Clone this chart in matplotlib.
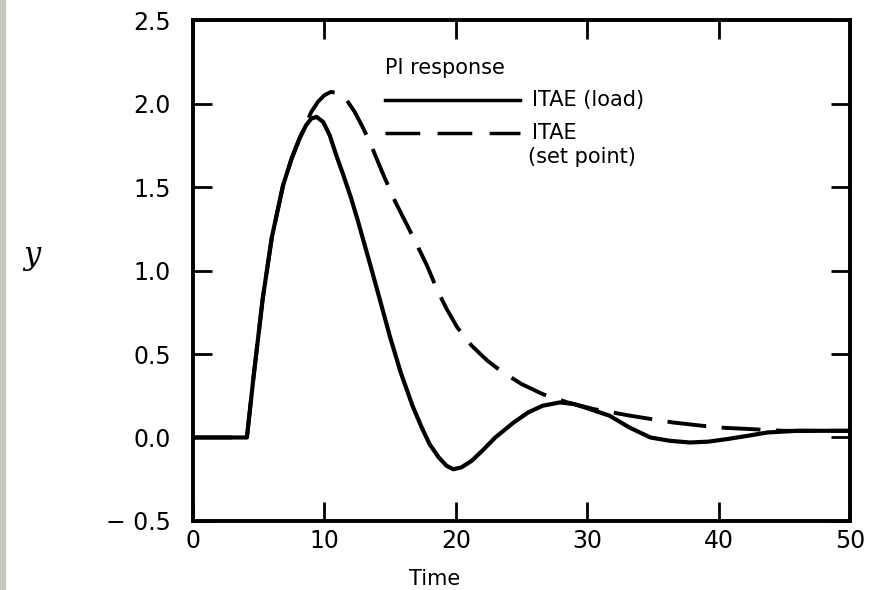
import matplotlib.pyplot as plt
from matplotlib.patches import Rectangle

# PI response, ITAE tuning
t_load = [0, 4.1, 4.6, 5.3, 6.0, 6.85, 7.5, 8.1, 8.6, 9.0, 9.4, 9.9, 10.4, 10.9, 11.4,
          12.0, 12.5, 13.0, 13.5, 14.2, 15.0, 15.8, 16.7, 17.4, 18.0, 18.7, 19.3, 19.8,
          20.4, 21.2, 22.0, 23.0, 24.4, 25.5, 26.6, 27.9, 29.0, 30.2, 31.7, 33.2, 34.8,
          36.3, 37.8, 39.2, 40.6, 42.2, 43.7, 46.0, 48.0, 50]
y_load = [0, 0, 0.36, 0.83, 1.2, 1.51, 1.67, 1.79, 1.87, 1.91, 1.92, 1.89, 1.81, 1.69, 1.58,
          1.44, 1.31, 1.17, 1.03, 0.83, 0.60, 0.39, 0.19, 0.06, -0.04, -0.12, -0.17, -0.19,
          -0.18, -0.14, -0.08, 0.0, 0.09, 0.15, 0.19, 0.21, 0.2, 0.17, 0.13, 0.06, 0.0,
          -0.02, -0.03, -0.025, -0.01, 0.01, 0.03, 0.04, 0.04, 0.04]

t_sp = [0, 4.1, 4.6, 5.3, 6.0, 6.85, 7.5, 8.1, 8.6, 9.0, 9.5, 10.0, 10.5, 11.1, 11.7, 12.3,
        12.9, 13.5, 14.5, 15.4, 16.3, 17.0, 17.8, 18.6, 19.3, 20.1, 21.2, 22.4, 23.4, 25.0,
        26.6, 28.5, 30.5, 33.3, 36.5, 39.9, 42.5, 44.9, 47.5, 50]
y_sp = [0, 0, 0.36, 0.83, 1.2, 1.51, 1.67, 1.79, 1.88, 1.95, 2.01, 2.05, 2.07, 2.06, 2.02, 1.95,
        1.86, 1.76, 1.57, 1.41, 1.27, 1.16, 1.03, 0.88, 0.77, 0.66, 0.55, 0.46, 0.40, 0.32,
        0.26, 0.21, 0.17, 0.13, 0.09, 0.06, 0.05, 0.04, 0.04, 0.04]

xticks = [0, 10, 20, 30, 40, 50]
yticks = [-0.5, 0.0, 0.5, 1.0, 1.5, 2.0, 2.5]
ytick_labels = ['\u2212 0.5', '0.0', '0.5', '1.0', '1.5', '2.0', '2.5']

fig = plt.figure(figsize=(8.75, 5.9), dpi=100)
ax = fig.add_axes([0.2206, 0.117, 0.751, 0.849])

ax.plot(t_load, y_load, color='black', lw=3, solid_joinstyle='round')
ax.plot(t_sp, y_sp, color='black', lw=2.8, linestyle=(0, (10, 4)))

ax.set_xlim(0, 50)
ax.set_ylim(-0.5, 2.5)
ax.set_xticks(xticks)
ax.set_yticks(yticks)
ax.set_yticklabels(ytick_labels)
ax.tick_params(direction='in', top=True, right=True, length=14, width=2, labelsize=17)
ax.tick_params(axis='y', pad=16)
ax.tick_params(axis='x', pad=6)
for s in ax.spines.values():
    s.set_linewidth(2.8)

ax.set_xlabel('Time', fontsize=15)
ax.xaxis.set_label_coords(0.368, -0.095)
ax.set_ylabel('y', fontsize=22, rotation=0, fontstyle='italic', family='DejaVu Serif')
ax.yaxis.set_label_coords(-0.245, 0.5)

# hand drawn key
ax.text(0.292, 0.904, 'PI response', transform=ax.transAxes, fontsize=15, va='center')
ax.plot([0.292, 0.498], [0.840, 0.840], transform=ax.transAxes, color='black', lw=2.5)
ax.text(0.516, 0.840, 'ITAE (load)', transform=ax.transAxes, fontsize=15, va='center')
ax.plot([0.292, 0.498], [0.774, 0.774], transform=ax.transAxes, color='black', lw=2.5,
        linestyle=(0, (10, 5)))
ax.text(0.516, 0.774, 'ITAE', transform=ax.transAxes, fontsize=15, va='center')
ax.text(0.510, 0.727, '(set point)', transform=ax.transAxes, fontsize=15, va='center')

# grey scan edge on the left
fig.add_artist(Rectangle((0, 0), 5 / 875, 1, transform=fig.transFigure, color='#c8c8c0'))

fig.savefig('out.png', dpi=100)
